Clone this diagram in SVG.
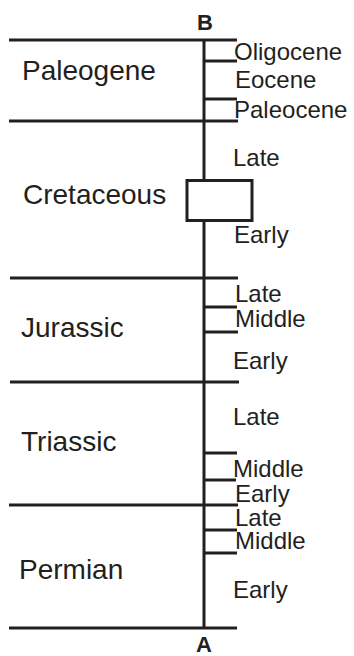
<svg xmlns="http://www.w3.org/2000/svg" width="354" height="656" viewBox="0 0 354 656">
<style>
.ln{stroke:#231f20;stroke-width:3;fill:none}
.big{font-family:"Liberation Sans",Arial,sans-serif;font-size:28px;fill:#231f20}
.sm{font-family:"Liberation Sans",Arial,sans-serif;font-size:24px;fill:#231f20}
.ax{font-family:"Liberation Sans",Arial,sans-serif;font-size:22px;font-weight:bold;fill:#231f20;text-anchor:middle}
</style>
<rect width="354" height="656" fill="#ffffff"/>
<g id="connectors">
<line class="ln" x1="204" y1="40" x2="204" y2="180"/>
<line class="ln" x1="204" y1="221" x2="204" y2="628"/>
<line class="ln" x1="9" y1="40" x2="237" y2="40"/>
<line class="ln" x1="9" y1="121" x2="238" y2="121"/>
<line class="ln" x1="10" y1="278" x2="238" y2="278"/>
<line class="ln" x1="10" y1="382" x2="239" y2="382"/>
<line class="ln" x1="9" y1="505" x2="238" y2="505"/>
<line class="ln" x1="9" y1="628" x2="237" y2="628"/>
<line class="ln" x1="204" y1="61" x2="237" y2="61"/>
<line class="ln" x1="204" y1="99" x2="237" y2="99"/>
<line class="ln" x1="204" y1="307" x2="237" y2="307"/>
<line class="ln" x1="204" y1="332" x2="238" y2="332"/>
<line class="ln" x1="204" y1="453" x2="237" y2="453"/>
<line class="ln" x1="204" y1="480" x2="236" y2="480"/>
<line class="ln" x1="204" y1="530" x2="237" y2="530"/>
<line class="ln" x1="204" y1="553" x2="237" y2="553"/>
</g>
<g id="box"><rect class="ln" x="187" y="180.5" width="65" height="40"/></g>
<g id="B"><text class="ax" x="205" y="30">B</text></g>
<g id="A"><text class="ax" x="204" y="652">A</text></g>
<g id="paleogene">
<text class="big" x="22" y="80">Paleogene</text>
<text class="sm" x="234" y="60">Oligocene</text>
<text class="sm" x="235" y="88">Eocene</text>
<text class="sm" x="234" y="118">Paleocene</text>
</g>
<g id="cretaceous">
<text class="big" x="23" y="204">Cretaceous</text>
<text class="sm" x="233" y="166">Late</text>
<text class="sm" x="234" y="243">Early</text>
</g>
<g id="jurassic">
<text class="big" x="21" y="337">Jurassic</text>
<text class="sm" x="235" y="302">Late</text>
<text class="sm" x="235" y="327">Middle</text>
<text class="sm" x="233" y="369">Early</text>
</g>
<g id="triassic">
<text class="big" x="21" y="451">Triassic</text>
<text class="sm" x="233" y="425">Late</text>
<text class="sm" x="233" y="477">Middle</text>
<text class="sm" x="235" y="502">Early</text>
</g>
<g id="permian">
<text class="big" x="19" y="579">Permian</text>
<text class="sm" x="235" y="526">Late</text>
<text class="sm" x="235" y="549">Middle</text>
<text class="sm" x="233" y="598">Early</text>
</g>
</svg>
